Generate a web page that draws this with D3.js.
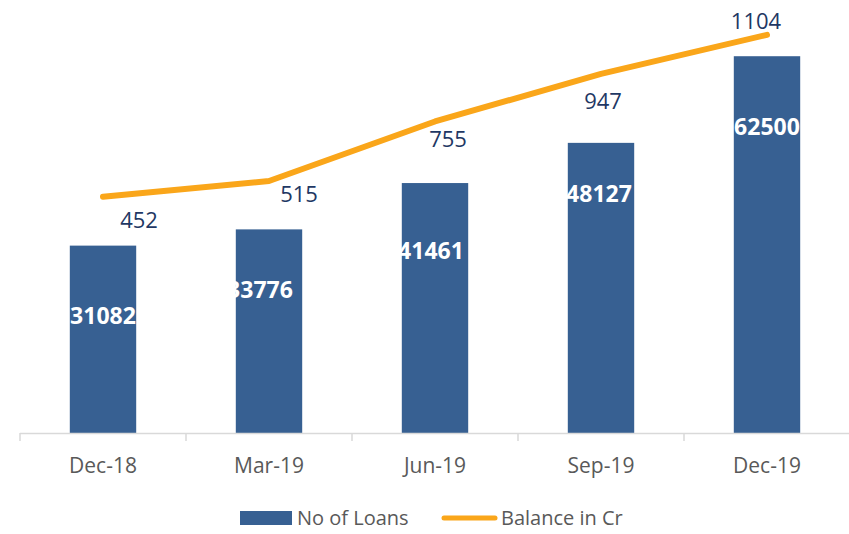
<!DOCTYPE html>
<html>
<head>
<meta charset="utf-8">
<script src="https://cdn.jsdelivr.net/npm/d3@7"></script>
<style>
  body { margin: 0; background: #fff; }
  svg { display: block; font-family: "Open Sans", "Noto Sans", sans-serif; }
</style>
</head>
<body>
<svg id="chart" width="849" height="534"></svg>
<script>
// values
const quarters = ['Dec-18', 'Mar-19', 'Jun-19', 'Sep-19', 'Dec-19'];
const loanCounts = [31082, 33776, 41461, 48127, 62500];
const balances = [452, 515, 755, 947, 1104];

// hand placed labels, like in the original (px: dx from bar centre, dy from bar top)
const barLabelNudge = [[0, 70], [-9, 60], [-4, 68], [-2, 51], [0, 71]];
const lineLabelNudge = [[36, 23], [30, 13], [13, 18], [2, 27], [-11, -14]];

const svg = d3.select('#chart');
const width = 849;
const baseY = 433;

const x = d3.scaleBand()
	.domain(quarters)
	.range([20, 850])
	.padding(0);

const yBar = d3.scaleLinear().domain([0, 70000]).range([baseY, 11]);
const yLine = d3.scaleLinear().domain([-500, 1200]).range([baseY, 11]);

const barW = x.bandwidth() * 0.4;
const cx = d => x(d) + x.bandwidth() / 2;

// bars
svg.append('g')
	.selectAll('rect')
	.data(quarters)
	.join('rect')
	.attr('x', d => cx(d) - barW / 2)
	.attr('width', barW)
	.attr('y', (d, i) => yBar(loanCounts[i]))
	.attr('height', (d, i) => baseY - yBar(loanCounts[i]))
	.attr('fill', '#376092');

// bar labels (white, so the part outside the bar disappears)
svg.append('g')
	.selectAll('text')
	.data(quarters)
	.join('text')
	.attr('x', (d, i) => cx(d) + barLabelNudge[i][0])
	.attr('y', (d, i) => yBar(loanCounts[i]) + barLabelNudge[i][1])
	.attr('dy', '0.36em')
	.attr('text-anchor', 'middle')
	.attr('font-size', 23)
	.attr('font-weight', 700)
	.attr('fill', '#fff')
	.text((d, i) => loanCounts[i]);

// x axis: line + ticks between categories
const axis = svg.append('g').attr('stroke', '#d9d9d9').attr('stroke-width', 1.5);
axis.append('line')
	.attr('x1', 20).attr('x2', width)
	.attr('y1', baseY + 0.5).attr('y2', baseY + 0.5);
axis.selectAll('.tick')
	.data(quarters)
	.join('line')
	.attr('class', 'tick')
	.attr('x1', d => x(d)).attr('x2', d => x(d))
	.attr('y1', baseY).attr('y2', baseY + 8);

svg.append('g')
	.selectAll('text')
	.data(quarters)
	.join('text')
	.attr('x', d => cx(d))
	.attr('y', 465)
	.attr('dy', '0.36em')
	.attr('text-anchor', 'middle')
	.attr('font-size', 21)
	.attr('fill', '#595959')
	.text(d => d);

// balance line
const line = d3.line()
	.x(d => cx(d))
	.y((d, i) => yLine(balances[i]));

svg.append('path')
	.datum(quarters)
	.attr('d', line)
	.attr('fill', 'none')
	.attr('stroke', '#faa61a')
	.attr('stroke-width', 6)
	.attr('stroke-linecap', 'round')
	.attr('stroke-linejoin', 'round');

svg.append('g')
	.selectAll('text')
	.data(quarters)
	.join('text')
	.attr('x', (d, i) => cx(d) + lineLabelNudge[i][0])
	.attr('y', (d, i) => yLine(balances[i]) + lineLabelNudge[i][1])
	.attr('dy', '0.36em')
	.attr('text-anchor', 'middle')
	.attr('font-size', 22)
	.attr('fill', '#1f3864')
	.text((d, i) => balances[i]);

// legend
const legend = svg.append('g').attr('font-size', 20).attr('fill', '#595959');
legend.append('rect')
	.attr('x', 240).attr('y', 511)
	.attr('width', 52).attr('height', 14)
	.attr('fill', '#376092');
legend.append('text')
	.attr('x', 297).attr('y', 518).attr('dy', '0.36em')
	.text('No of Loans');
legend.append('line')
	.attr('x1', 444).attr('x2', 495)
	.attr('y1', 518).attr('y2', 518)
	.attr('stroke', '#faa61a')
	.attr('stroke-width', 5)
	.attr('stroke-linecap', 'round');
legend.append('text')
	.attr('x', 501).attr('y', 518).attr('dy', '0.36em')
	.text('Balance in Cr');
</script>
</body>
</html>
